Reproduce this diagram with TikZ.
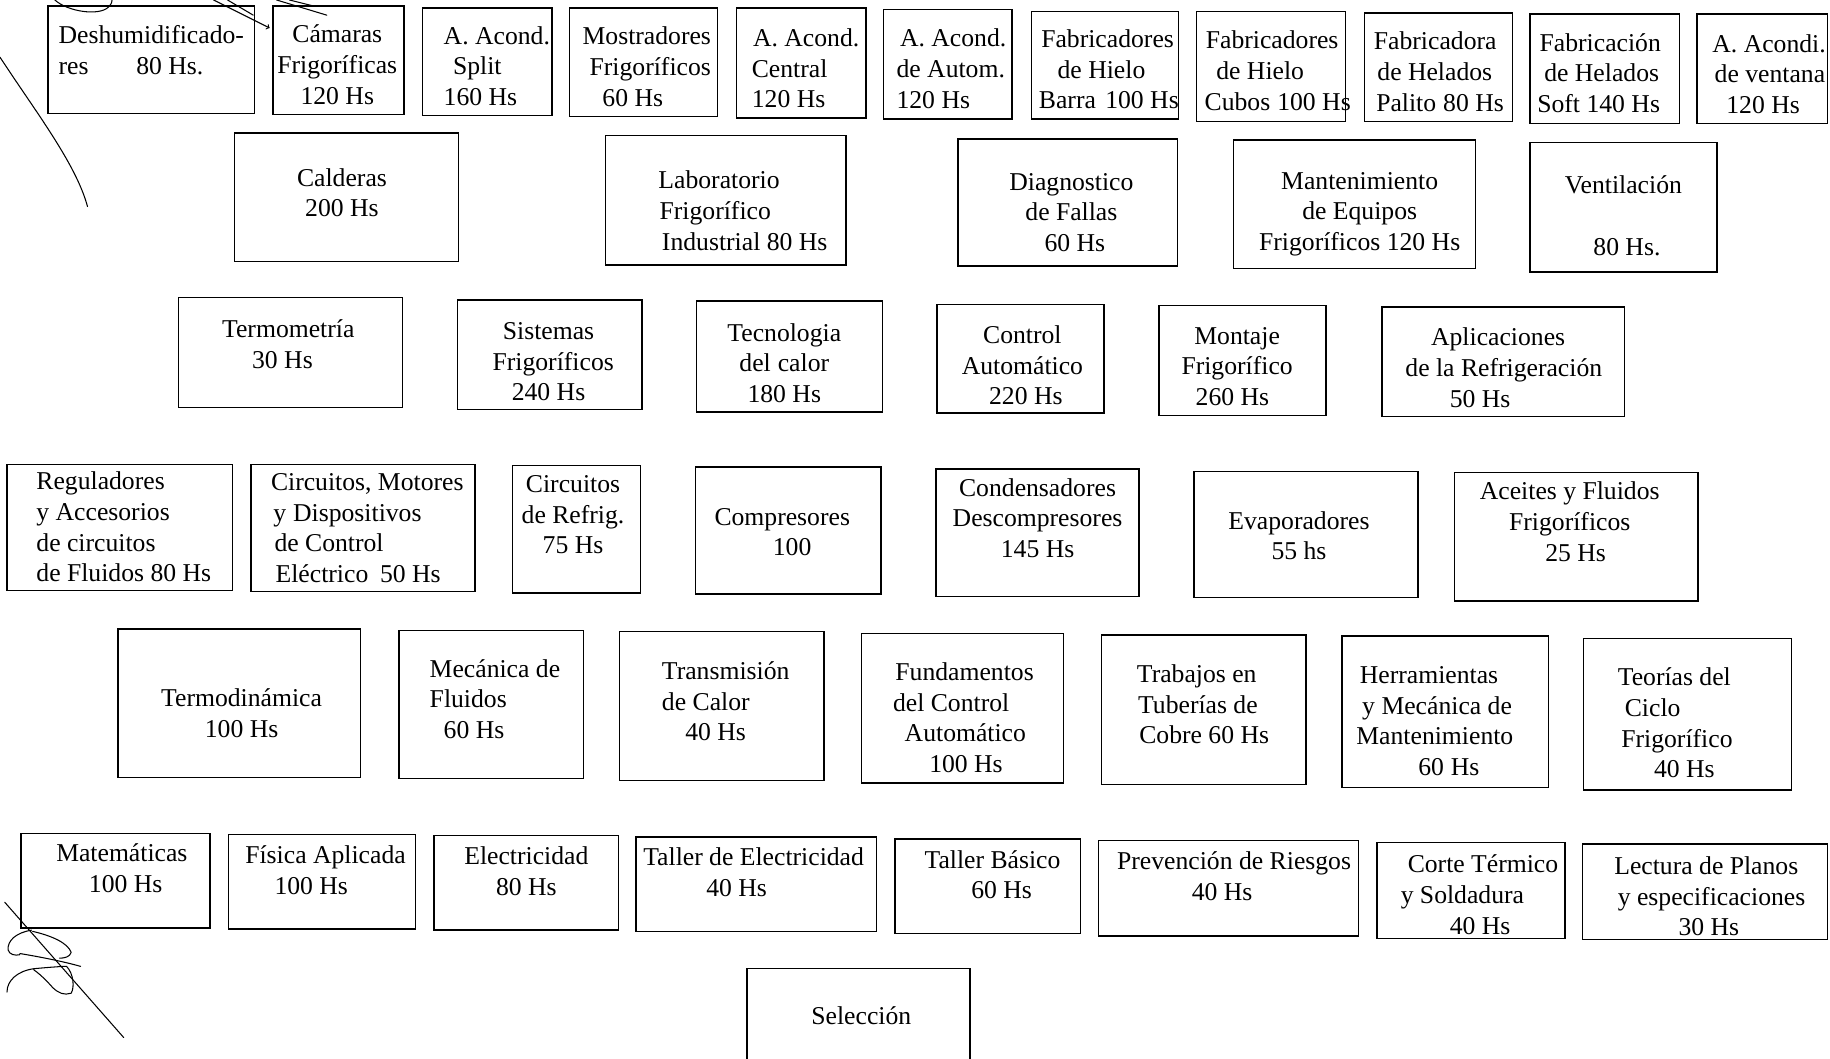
\documentclass[tikz,border=0pt]{standalone}
\usepackage{fontspec}
\setmainfont{Liberation Serif}
\begin{document}
\begin{tikzpicture}[x=1pt,y=1pt,
  bx/.style={draw, line width=1.2pt, inner sep=0pt},
  txt/.style={inner sep=0pt, font=\fontsize{22}{26.3}\selectfont},
  lt/.style={txt, anchor=west, align=left},
  ct/.style={txt, anchor=center, align=center},
  scr/.style={line width=0.9pt, line cap=round, line join=round}]
\useasboundingbox (0,0) rectangle (1568,-907);
\newcommand{\bx}[5]{\node[bx, minimum width={(#4-#2)*1pt}, minimum height={(#5-#3)*1pt}] (#1) at ({(#2+#4)/2},{-(#3+#5)/2}) {};}
% ---------- row 1
\bx{desh}{41}{5}{218}{97}
\node[lt] (desh-t) at (50,-43) {Deshumidificado-\\res\hspace{41pt}80 Hs.};
\bx{cam}{234}{5}{346}{98}
\node[ct] (cam-t) at (289,-55.5) {Cámaras\\Frigoríficas\\120 Hs};
\bx{split}{362}{7}{473}{99}
\node[lt] (split-t) at (380,-56.5) {A. Acond.\\\hspace*{8pt}Split\\160 Hs};
\bx{most}{488}{7}{615}{100}
\node[lt] (most-t) at (499,-57) {Mostradores\\\hspace*{6pt}Frigoríficos\\\hspace*{17pt}60 Hs};
\bx{cent}{631}{7}{742}{101}
\node[lt] (cent-t) at (644,-58.5) {\hspace*{1pt}A. Acond.\\Central\\120 Hs};
\bx{auto}{757}{8}{867}{102}
\node[lt] (auto-t) at (768,-59) {\hspace*{3pt}A. Acond.\\de Autom.\\120 Hs};
\bx{barra}{884}{10}{1010}{102}
\node[lt] (barra-t) at (890,-59.5) {\hspace*{2pt}Fabricadores\\\hspace*{16pt}de Hielo\\Barra\hspace{8pt}100 Hs};
\bx{cubos}{1025}{10}{1153}{104}
\node[lt] (cubos-t) at (1032,-60.5) {\hspace*{1pt}Fabricadores\\\hspace*{10pt}de Hielo\\Cubos\hspace{6pt}100 Hs};
\bx{palito}{1169}{11}{1296}{104}
\node[lt] (palito-t) at (1177,-61.5) {Fabricadora\\\hspace*{3pt}de Helados\\\hspace*{2pt}Palito\hspace{6pt}80 Hs};
\bx{soft}{1311}{12}{1439}{106}
\node[lt] (soft-t) at (1317,-62.5) {\hspace*{2pt}Fabricación\\\hspace*{6pt}de Helados\\Soft 140 Hs};
\bx{vent}{1454}{12}{1566}{106}
\node[lt] (vent-t) at (1467,-63.5) {A. Acondi.\\\hspace*{2pt}de ventana\\\hspace*{12pt}120 Hs};
% ---------- row 2
\bx{cald}{201}{114}{393}{224}
\node[ct] (cald-t) at (293,-165) {Calderas\\200 Hs};
\bx{lab}{519}{116}{725}{227}
\node[lt] (lab-t) at (564,-180.5) {Laboratorio\\\hspace*{1pt}Frigorífico\\\hspace*{3pt}Industrial 80 Hs};
\bx{diag}{821}{119}{1009}{228}
\node[ct] (diag-t) at (918,-182) {Diagnostico\\de Fallas\\\hspace*{6pt}60 Hs};
\bx{mant}{1057}{120}{1264}{230}
\node[ct] (mant-t) at (1165,-183.5) {Mantenimiento\\de Equipos\\Frigoríficos 120 Hs};
\bx{ventil}{1311}{122}{1471}{233}
\node[ct] (ventil-t) at (1391,-185) {Ventilación\\[26.3pt]\hspace*{6pt}80 Hs.};
% ---------- row 3
\bx{term}{153}{255}{345}{349}
\node[ct] (term-t) at (247,-295) {Termometría\\30 Hs\hspace*{10pt}};
\bx{sist}{392}{257}{550}{351}
\node[ct] (sist-t) at (470,-310) {Sistemas\\\hspace*{8pt}Frigoríficos\\240 Hs};
\bx{tecn}{597}{258}{756}{353}
\node[ct] (tecn-t) at (672,-311) {Tecnologia\\del\hspace{6pt}calor\\180 Hs};
\bx{ctrl}{803}{261}{946}{354}
\node[ct] (ctrl-t) at (876,-313) {Control\\Automático\\\hspace*{6pt}220 Hs};
\bx{mont}{993}{262}{1136}{356}
\node[ct] (mont-t) at (1060,-314) {Montaje\\Frigorífico\\260 Hs\hspace*{8pt}};
\bx{apli}{1184}{263}{1392}{357}
\node[lt] (apli-t) at (1204,-315) {\hspace*{22pt}Aplicaciones\\de la Refrigeración\\\hspace*{38pt}50 Hs};
% ---------- row 4
\bx{regu}{6}{398}{199}{506}
\node[lt] (regu-t) at (31,-451.5) {Reguladores\\y Accesorios\\de circuitos\\de Fluidos 80 Hs};
\bx{circ}{215}{398}{407}{507}
\node[lt] (circ-t) at (232,-452.5) {Circuitos, Motores\\\hspace*{2pt}y\hspace{6pt}Dispositivos\\\hspace*{3pt}de Control\\\hspace*{4pt}Eléctrico\hspace{10pt}50 Hs};
\bx{circr}{439}{399}{549}{508}
\node[ct] (circr-t) at (491,-441) {Circuitos\\de Refrig.\\75 Hs};
\bx{comp}{596}{400}{755}{509}
\node[lt] (comp-t) at (612,-456) {Compresores\\\hspace*{50pt}100};
\bx{cond}{802}{402}{976}{511}
\node[ct] (cond-t) at (889,-444) {Condensadores\\Descompresores\\145 Hs};
\bx{evap}{1023}{404}{1215}{512}
\node[ct] (evap-t) at (1113,-459) {Evaporadores\\55 hs};
\bx{acei}{1246}{405}{1455}{515}
\node[ct] (acei-t) at (1345,-447) {Aceites y Fluidos\\Frigoríficos\\\hspace*{10pt}25 Hs};
% ---------- row 5
\bx{tdin}{101}{539}{309}{666}
\node[ct] (tdin-t) at (207,-611) {Termodinámica\\100 Hs};
\bx{mfl}{342}{540}{500}{667}
\node[lt] (mfl-t) at (368,-599) {Mecánica de\\Fluidos\\\hspace*{12pt}60 Hs};
\bx{trans}{531}{541}{706}{669}
\node[lt] (trans-t) at (567,-601) {Transmisión\\de Calor\\\hspace*{20pt}40 Hs};
\bx{fund}{738}{543}{911}{671}
\node[lt] (fund-t) at (765,-615) {\hspace*{2pt}Fundamentos\\del Control\\\hspace*{10pt}Automático\\\hspace*{31pt}100 Hs};
\bx{trab}{944}{544}{1119}{672}
\node[lt] (trab-t) at (974,-603.5) {Trabajos en\\\hspace*{1pt}Tuberías de\\\hspace*{2pt}Cobre 60 Hs};
\bx{herr}{1150}{545}{1327}{675}
\node[lt] (herr-t) at (1162,-618) {\hspace*{3pt}Herramientas\\\hspace*{5pt}y Mecánica de\\Mantenimiento\\\hspace*{53pt}60\hspace{6pt}Hs};
\bx{teor}{1357}{547}{1535}{677}
\node[lt] (teor-t) at (1386,-619.5) {Teorías del\\\hspace*{6pt}Ciclo\\\hspace*{3pt}Frigorífico\\\hspace*{31pt}40 Hs};
% ---------- row 6
\bx{mate}{18}{714}{180}{795}
\node[lt] (mate-t) at (48,-744) {Matemáticas\\\hspace*{28pt}100 Hs};
\bx{fisi}{196}{715}{356}{796}
\node[lt] (fisi-t) at (210,-745.5) {Física Aplicada\\\hspace*{25pt}100 Hs};
\bx{elec}{372}{716}{530}{797}
\node[ct] (elec-t) at (451,-746.5) {Electricidad\\80 Hs};
\bx{telec}{545}{717}{751}{798}
\node[lt] (telec-t) at (551,-747.5) {Taller de Electricidad\\\hspace*{54pt}40 Hs};
\bx{tbas}{767}{719}{926}{800}
\node[lt] (tbas-t) at (792,-749.5) {Taller Básico\\\hspace*{40pt}60 Hs};
\bx{prev}{941}{720}{1164}{802}
\node[lt] (prev-t) at (957,-751) {Prevención de Riesgos\\\hspace*{64pt}40 Hs};
\bx{cort}{1180}{722}{1341}{804}
\node[lt] (cort-t) at (1200,-766.5) {\hspace*{6pt}Corte Térmico\\y Soldadura\\\hspace*{42pt}40 Hs};
\bx{lect}{1356}{723}{1566}{805}
\node[lt] (lect-t) at (1383,-768) {Lectura de Planos\\\hspace*{3pt}y especificaciones\\\hspace*{55pt}30 Hs};
% ---------- row 7
\bx{sele}{640}{830}{831}{930}
\node[ct] (sele-t) at (738,-870) {Selección};
% ---------- handwritten marks
\draw[scr] (0,-49) .. controls (30,-95) and (65,-140) .. (75,-177);
\draw[scr] (47,0) .. controls (58,-10) and (85,-14) .. (93,-6) .. controls (96,-3) and (96,-1) .. (96,0);
\draw[scr, ->] (183,0) -- (231,-24);
\draw[scr] (195,0) -- (217,-13);
\draw[scr] (237,0) -- (280,-13);
\draw[scr] (248,0) -- (268,-5);
\draw[scr] (4,-773) -- (106,-889);
\draw[scr] (27,-797) .. controls (14,-799) and (6,-806) .. (7,-814) .. controls (8,-818) and (13,-819) .. (17,-818);
\draw[scr] (28,-798) .. controls (45,-802) and (58,-808) .. (61,-816) .. controls (60,-820) and (55,-821) .. (51,-821);
\draw[scr] (17,-817) .. controls (35,-820) and (55,-824) .. (69,-828);
\draw[scr] (6,-850) .. controls (6,-840) and (15,-832) .. (29,-830) .. controls (40,-829) and (52,-828) .. (57,-828) .. controls (63,-834) and (64,-846) .. (61,-851) .. controls (55,-853) and (50,-851) .. (45,-846) .. controls (38,-838) and (32,-833) .. (29,-831);
\end{tikzpicture}
\end{document}
